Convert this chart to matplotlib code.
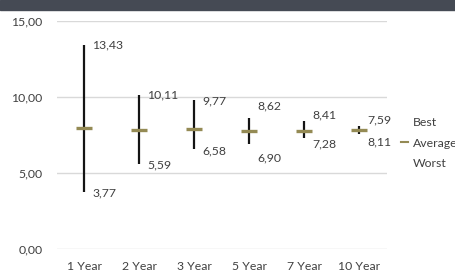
import matplotlib
matplotlib.use("Agg")
import matplotlib.pyplot as plt
from matplotlib.lines import Line2D
from matplotlib.patches import Rectangle

categories = ["1 Year", "2 Year", "3 Year", "5 Year", "7 Year", "10 Year"]
best = [13.43, 10.11, 9.77, 8.62, 8.41, 7.59]
average = [7.99, 7.86, 7.90, 7.77, 7.79, 7.83]
worst = [3.77, 5.59, 6.58, 6.90, 7.28, 8.11]
y_ticks = [0, 5, 10, 15]
y_tick_labels = ["0,00", "5,00", "10,00", "15,00"]
best_labels = ["13,43", "10,11", "9,77", "8,62", "8,41", "7,59"]
worst_labels = ["3,77", "5,59", "6,58", "6,90", "7,28", "8,11"]

# label vertical nudges in pixels (positive = up), as placed in the reference
best_dy = [0, 0, 0, 12, 6, 14]
worst_dy = [-1, -1, -2, -14, -6, -16]

plt.rcParams['font.family'] = ['Lato', 'DejaVu Sans']
fs = 8.8
txt = '#404040'

fig = plt.figure(figsize=(4.56, 2.70), dpi=100)
fig.patches.append(Rectangle((0, 1 - 10 / 270), 1, 10 / 270, transform=fig.transFigure,
                             color='#454a54', zorder=0))
ax = fig.add_axes([57 / 456, 21 / 270, 330 / 456, 228 / 270])

x = list(range(len(categories)))
for i in x:
    ax.plot([i, i], [min(best[i], worst[i]), max(best[i], worst[i])],
            color='#141414', lw=1.6, solid_capstyle='butt', zorder=3)
ax.plot(x, average, linestyle='none', marker='_', markersize=11.5,
        markeredgewidth=2.4, color='#948a54', zorder=4)

for i in x:
    ax.annotate(best_labels[i], xy=(i, best[i]), xytext=(8 * 0.72, best_dy[i] * 0.72),
                textcoords='offset points', ha='left', va='center', fontsize=fs, color=txt)
    ax.annotate(worst_labels[i], xy=(i, worst[i]), xytext=(8 * 0.72, worst_dy[i] * 0.72),
                textcoords='offset points', ha='left', va='center', fontsize=fs, color=txt)

ax.set_xlim(-0.5, len(categories) - 0.5)
ax.set_ylim(0, 15)
ax.set_yticks(y_ticks)
ax.set_yticklabels(y_tick_labels)
ax.set_xticks(x)
ax.set_xticklabels(categories)
ax.grid(axis='y', color='#d9d9d9', lw=1)
ax.set_axisbelow(True)
for s in ax.spines.values():
    s.set_visible(False)
ax.tick_params(axis='both', length=0, labelsize=fs, colors=txt)
ax.tick_params(axis='y', pad=10.5)
ax.tick_params(axis='x', pad=8.5)

handles = [Line2D([], [], color='none'),
           Line2D([], [], color='#948a54', lw=1.5),
           Line2D([], [], color='none')]
leg = fig.legend(handles, ["Best", "Average", "Worst"], loc='center left',
                 bbox_to_anchor=(401 / 456, 1 - 143 / 270), frameon=False,
                 fontsize=fs, handlelength=0.6, handletextpad=0.4,
                 labelspacing=0.75, borderpad=0, borderaxespad=0)
for t in leg.get_texts():
    t.set_color(txt)

fig.savefig("out.png", dpi=100)
